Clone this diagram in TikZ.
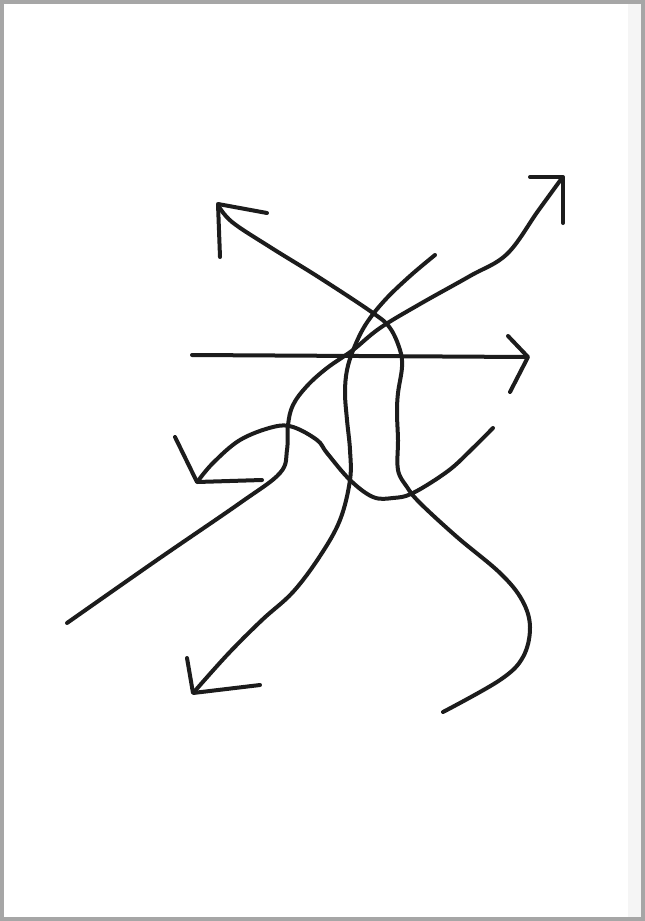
\documentclass[tikz,border=0pt]{standalone}
\begin{document}
\begin{tikzpicture}[x=1pt,y=-1pt,
  ink/.style={draw={rgb,255:red,28;green,28;blue,28},line width=4pt,line cap=round,line join=round},
  curve/.style={ink,smooth,tension=0.6}]
\fill[gray!70] (0,0) rectangle (645,921);
\fill[white] (4,4) rectangle (641,917);
\fill[gray!8] (628,4) rectangle (641,917);
\useasboundingbox (0,0) rectangle (645,921);
% A: upper-left arrow, loop, lower right
\draw[curve] plot coordinates {(218,205) (232,222) (270,247) (320,278) (373,313) (390,328) (400,350) (402,367) (398,393) (397,413) (398,440) (398,470) (407,487) (420,503) (457,537) (500,573) (522,600) (530,627) (523,657) (500,680) (443,712)};
\draw[ink] (220,257) -- (218,204) -- (267,213);
% B: upper-right arrow to lower left
\draw[curve] plot coordinates {(562,178) (538,211) (507,254) (470,276) (420,304) (380,328) (353,350) (327,368) (307,386) (293,405) (288,425) (287,450) (280,473) (240,503) (157,560) (67,623)};
\draw[ink] (530,177) -- (563,177) -- (563,223);
% C: horizontal arrow
\draw[ink] (192,355) -- (527,357);
\draw[ink] (508,336) -- (528,357) -- (510,392);
% D: from top middle to lower-left arrow
\draw[curve] plot coordinates {(435,255) (410,276) (385,300) (366,324) (354,348) (347,370) (345,393) (347,420) (350,450) (350,480) (340,520) (320,556) (293,592) (262,620) (228,654) (194,692)};
\draw[ink] (187,658) -- (193,693) -- (260,685);
% E: right end to left-middle arrow
\draw[curve] plot coordinates {(493,428) (472,449) (448,471) (413,493) (393,498) (373,497) (350,480) (327,453) (317,440) (293,427) (273,427) (240,440) (213,463) (198,481)};
\draw[ink] (175,437) -- (197,482) -- (262,480);
\end{tikzpicture}
\end{document}
